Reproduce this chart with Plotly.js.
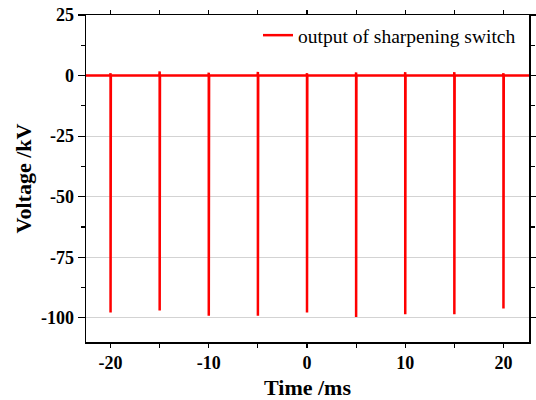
<!DOCTYPE html>
<html>
<head>
<meta charset="utf-8">
<script src="https://cdn.plot.ly/plotly-3.0.1.min.js"></script>
<style>html,body{margin:0;padding:0;background:#fff;}#chart{width:536px;height:400px;}</style>
</head>
<body>
<div id="chart"></div>
<script>
// Data
const spikeTimes = [-20, -15, -10, -5, 0, 5, 10, 15, 20];          // ms
const spikeMin   = [-97.8, -97.0, -99.2, -99.2, -97.8, -99.7, -98.5, -98.5, -96.2]; // kV
const spikePeak  = [1.0, 1.7, 1.2, 1.5, 1.0, 1.3, 1.4, 1.4, 1.0];   // kV overshoot
const tStart = -22.5, tEnd = 22.6;
const baseline = 0;
const xTickVals = [-20, -10, 0, 10, 20];
const xTickText = ['-20', '-10', '0', '10', '20'];
const yTickVals = [25, 0, -25, -50, -75, -100];
const yTickText = ['25', '0', '-25', '-50', '-75', '-100'];

// Build the waveform trace from the arrays
const xs = [tStart], ys = [baseline];
for (let i = 0; i < spikeTimes.length; i++) {
  const t = spikeTimes[i];
  xs.push(t - 0.03, t, t, t + 0.03);
  ys.push(baseline, spikePeak[i], spikeMin[i], baseline);
}
xs.push(tEnd); ys.push(baseline);

const serif = '"Liberation Serif", "Times New Roman", serif';

const trace = {
  x: xs, y: ys, type: 'scatter', mode: 'lines',
  name: 'output of sharpening switch',
  line: {color: '#ff0000', width: 2.5}
};

const layout = {
  width: 536, height: 400,
  margin: {l: 86, r: 7, t: 15, b: 58},
  paper_bgcolor: '#fff', plot_bgcolor: '#fff',
  showlegend: true,
  legend: {x: 0.982, xanchor: 'right', y: 0.997, yanchor: 'top',
           bgcolor: 'rgba(0,0,0,0)', font: {family: serif, size: 19.5, color: '#000'}},
  xaxis: {
    range: [tStart, tEnd], tickmode: 'array', tickvals: xTickVals, ticktext: xTickText,
    showgrid: false, zeroline: false,
    showline: true, linecolor: '#000', linewidth: 1.5, mirror: 'allticks',
    ticks: 'outside', ticklen: 4, tickwidth: 1.2, tickcolor: '#000',
    minor: {dtick: 5, tick0: 0, ticks: 'outside', ticklen: 4, tickwidth: 1.2, tickcolor: '#000', showgrid: false},
    tickfont: {family: serif, size: 18, color: '#000', weight: 'bold'},
    title: {text: '<b>Time /ms</b>', font: {family: serif, size: 22, color: '#000'}, standoff: 8}
  },
  yaxis: {
    range: [-110, 25], tickmode: 'array', tickvals: yTickVals, ticktext: yTickText,
    showgrid: true, gridcolor: '#d3d3d3', gridwidth: 1, zeroline: false,
    showline: true, linecolor: '#000', linewidth: 1.5, mirror: 'allticks',
    ticks: 'outside', ticklen: 7, tickwidth: 1.2, tickcolor: '#000',
    minor: {dtick: 12.5, tick0: 0, ticks: 'outside', ticklen: 4, tickwidth: 1.2, tickcolor: '#000', showgrid: false},
    tickfont: {family: serif, size: 18, color: '#000', weight: 'bold'},
    title: {text: '<b>Voltage /kV</b>', font: {family: serif, size: 22, color: '#000'}, standoff: 3}
  }
};

Plotly.newPlot('chart', [trace], layout, {displayModeBar: false, staticPlot: true});
</script>
</body>
</html>
